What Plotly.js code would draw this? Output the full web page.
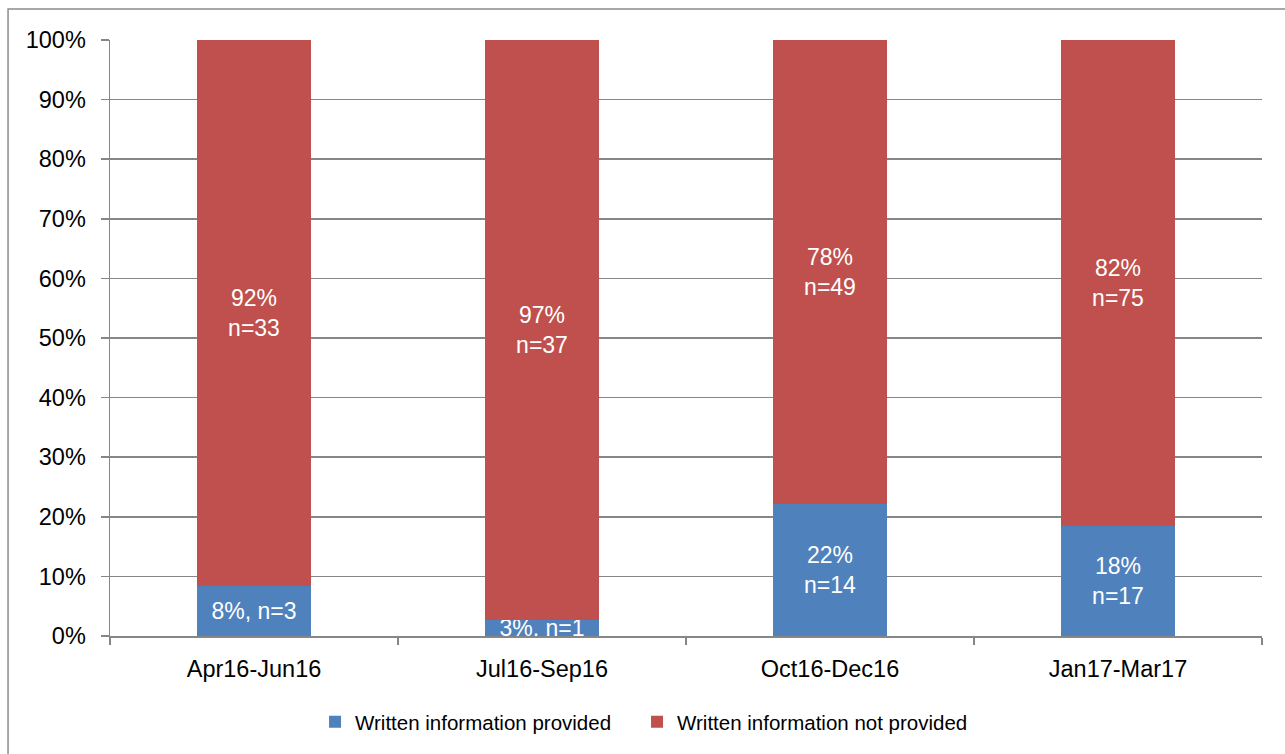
<!DOCTYPE html>
<html>
<head>
<meta charset="utf-8">
<script src="https://cdn.plot.ly/plotly-3.0.1.min.js"></script>
<style>html,body{margin:0;padding:0;background:#fff;}#chart{width:1285px;height:754px;}</style>
</head>
<body>
<div id="chart"></div>
<script>
const categories = ['Apr16-Jun16', 'Jul16-Sep16', 'Oct16-Dec16', 'Jan17-Mar17'];
const providedValues = [8.33, 2.63, 22.22, 18.48];
const notProvidedValues = [91.67, 97.37, 77.78, 81.52];
const providedLabels = ['8%, n=3', '3%, n=1', '22%<br>n=14', '18%<br>n=17'];
const notProvidedLabels = ['92%<br>n=33', '97%<br>n=37', '78%<br>n=49', '82%<br>n=75'];
const yTickValues = [0, 10, 20, 30, 40, 50, 60, 70, 80, 90, 100];
const yTickLabels = ['0%', '10%', '20%', '30%', '40%', '50%', '60%', '70%', '80%', '90%', '100%'];

const FONT = 'Liberation Sans, Arial, sans-serif';
const labelFont = {family: FONT, size: 23, color: '#ffffff'};
const legendFont = {family: FONT, size: 20.5, color: '#000000'};

const traces = [
  {
    type: 'bar', name: 'Written information provided', x: categories, y: providedValues,
    text: providedLabels, textposition: 'inside', insidetextanchor: 'middle', textangle: 0,
    constraintext: 'none', textfont: labelFont, marker: {color: '#4F81BD', line: {width: 0}},
    hoverinfo: 'skip', cliponaxis: true, legend: 'legend'
  },
  {
    type: 'bar', name: 'Written information not provided', x: categories, y: notProvidedValues,
    text: notProvidedLabels, textposition: 'inside', insidetextanchor: 'middle', textangle: 0,
    constraintext: 'none', textfont: labelFont, marker: {color: '#C0504D', line: {width: 0}},
    hoverinfo: 'skip', cliponaxis: true, legend: 'legend2'
  }
];

const layout = {
  width: 1285, height: 754,
  margin: {l: 110, r: 23, t: 40, b: 118, pad: 0},
  paper_bgcolor: '#ffffff', plot_bgcolor: '#ffffff',
  barmode: 'stack', bargap: 0.604,
  font: {family: FONT, size: 23.5, color: '#000000'},
  uniformtext: {mode: 'show', minsize: 23},
  showlegend: true,
  legend: {
    orientation: 'h', x: 0.178, xanchor: 'left', y: -0.144, yanchor: 'middle',
    font: legendFont, itemwidth: 30, bgcolor: 'rgba(0,0,0,0)'
  },
  legend2: {
    orientation: 'h', x: 0.4575, xanchor: 'left', y: -0.144, yanchor: 'middle',
    font: legendFont, itemwidth: 30, bgcolor: 'rgba(0,0,0,0)'
  },
  xaxis: {
    type: 'category', tickson: 'boundaries', ticks: 'outside', ticklen: 7, tickwidth: 1.5,
    tickcolor: '#868686', showline: true, linecolor: '#868686', linewidth: 1.5,
    showgrid: false, zeroline: false, ticklabelstandoff: 11,
    tickfont: {family: FONT, size: 23.5, color: '#000000'}, fixedrange: true
  },
  yaxis: {
    range: [0, 100], tickvals: yTickValues, ticktext: yTickLabels,
    ticks: 'outside', ticklen: 8, tickwidth: 1.5, tickcolor: '#868686',
    showline: true, linecolor: '#868686', linewidth: 1.5,
    showgrid: true, gridcolor: '#868686', gridwidth: 1.5, zeroline: false,
    ticklabelstandoff: 10,
    tickfont: {family: FONT, size: 23.5, color: '#000000'}, fixedrange: true
  },
  shapes: [{
    type: 'rect', xref: 'paper', yref: 'paper',
    x0: -0.0885, x1: 1.03, y0: -0.22, y1: 1.052,
    line: {color: '#8c8c8c', width: 1.5}, fillcolor: 'rgba(0,0,0,0)', layer: 'below'
  }]
};

Plotly.newPlot('chart', traces, layout, {displayModeBar: false, staticPlot: true});
</script>
</body>
</html>
